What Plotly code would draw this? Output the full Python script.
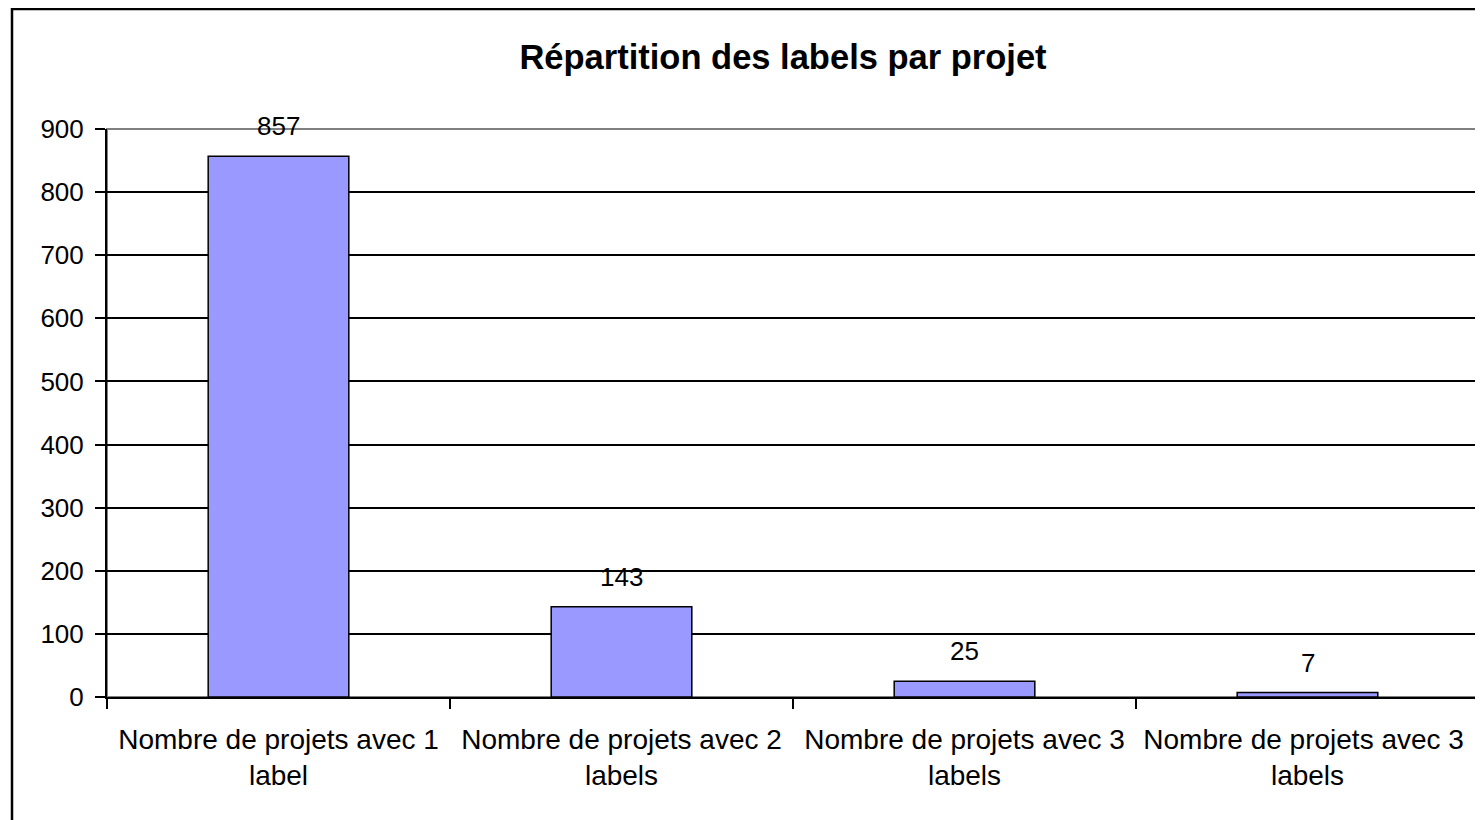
import plotly.graph_objects as go

categories = [
    "Nombre de projets avec 1<br>label",
    "Nombre de projets avec 2<br>labels",
    "Nombre de projets avec 3<br>labels",
    "Nombre de projets avec 3 <br>labels",
]
values = [857, 143, 25, 7]
y_ticks = [0, 100, 200, 300, 400, 500, 600, 700, 800, 900]

# page has an 8px body margin; target plot area (page px): left 107, top 129, right 1479, bottom 697
OFF = 8
W, H = 1483 - OFF, 820 - OFF
L, R, T, B = 107 - OFF, 4, 129 - OFF, 123
pw, ph = W - L - R, H - T - B

fig = go.Figure()
fig.add_trace(go.Bar(
    x=categories, y=values,
    marker=dict(color="#9999FF", line=dict(color="black", width=1.5)),
    width=0.41,
))

for c, v in zip(categories, values):
    fig.add_annotation(x=c, y=v, text=str(v), showarrow=False, yshift=30,
                       yanchor="middle", font=dict(size=26, color="black"))

# outer chart border
fig.add_shape(type="rect", xref="paper", yref="paper",
              x0=(12 - 107) / pw, x1=1.05, y0=-0.4, y1=1 + (129 - 9) / ph,
              line=dict(color="black", width=2.5), layer="below")
# plot area border (grey)
fig.add_shape(type="rect", xref="paper", yref="paper",
              x0=0, x1=1, y0=0, y1=1,
              line=dict(color="#808080", width=2), layer="below")

fig.update_layout(
    width=W, height=H,
    margin=dict(l=L, r=R, t=T, b=B),
    paper_bgcolor="white", plot_bgcolor="white",
    font=dict(family="Liberation Sans, Arial, sans-serif", color="black", size=26),
    title=dict(text="<b>Répartition des labels par projet</b>", x=(783 - OFF) / W,
               xanchor="center", y=1 - (57 - OFF) / H, yanchor="middle",
               font=dict(size=34.5, color="black")),
    showlegend=False,
    bargap=0.59,
)
fig.update_xaxes(
    type="category", showline=True, linecolor="black", linewidth=2,
    ticks="outside", tickson="boundaries", ticklen=10, tickcolor="black", tickwidth=2,
    showgrid=False, tickfont=dict(size=28), zeroline=False, ticklabelstandoff=16,
)
fig.update_yaxes(
    range=[0, 900], tickvals=y_ticks, showline=True, linecolor="black", linewidth=2,
    ticks="outside", ticklen=10, tickcolor="black", tickwidth=2,
    showgrid=True, gridcolor="black", gridwidth=1.6, zeroline=False,
    tickfont=dict(size=26), ticklabelstandoff=6,
)

fig.write_html("out.html")
